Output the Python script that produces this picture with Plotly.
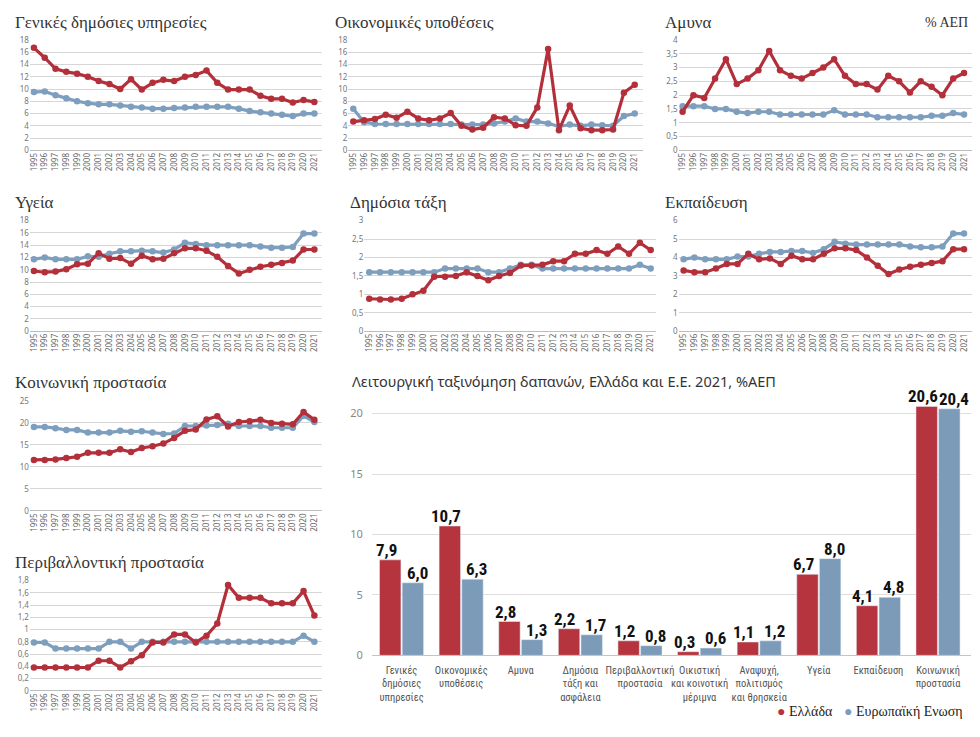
import plotly.graph_objects as go

W, H = 980, 737
years = list(range(1995, 2022))

gen_gr = [16.7, 15.1, 13.3, 12.8, 12.5, 12.0, 11.3, 10.8, 10.0, 11.6, 9.9, 11.0, 11.5, 11.3, 12.0, 12.3, 13.0, 11.0, 9.9, 9.9, 9.9, 8.9, 8.4, 8.4, 7.8, 8.2, 7.9]
gen_eu = [9.5, 9.6, 9.0, 8.5, 8.0, 7.7, 7.5, 7.5, 7.3, 7.1, 7.0, 6.8, 6.8, 6.9, 7.0, 7.1, 7.1, 7.1, 7.1, 6.8, 6.4, 6.2, 6.0, 5.8, 5.6, 6.0, 6.0]
eco_gr = [4.7, 4.9, 5.1, 5.8, 5.3, 6.3, 5.2, 4.9, 5.2, 6.1, 4.0, 3.4, 3.7, 5.4, 5.2, 4.1, 4.0, 7.0, 16.5, 3.3, 7.3, 3.6, 3.3, 3.3, 3.4, 9.4, 10.7]
eco_eu = [6.8, 4.6, 4.3, 4.3, 4.3, 4.3, 4.3, 4.3, 4.3, 4.3, 4.2, 4.2, 4.2, 4.4, 4.7, 5.2, 4.7, 4.7, 4.4, 3.9, 4.2, 4.0, 4.2, 4.1, 4.0, 5.6, 6.0]
def_gr = [1.4, 2.0, 1.9, 2.6, 3.3, 2.4, 2.6, 2.9, 3.6, 2.9, 2.7, 2.6, 2.8, 3.0, 3.3, 2.7, 2.4, 2.4, 2.2, 2.7, 2.5, 2.1, 2.5, 2.3, 2.0, 2.6, 2.8]
def_eu = [1.6, 1.6, 1.6, 1.5, 1.5, 1.4, 1.35, 1.4, 1.4, 1.3, 1.3, 1.3, 1.3, 1.3, 1.45, 1.3, 1.3, 1.3, 1.2, 1.2, 1.2, 1.2, 1.2, 1.25, 1.25, 1.35, 1.3]
hea_gr = [9.8, 9.6, 9.7, 10.1, 10.9, 11.0, 12.7, 11.8, 11.9, 11.0, 12.3, 11.7, 11.8, 12.7, 13.5, 13.5, 13.1, 12.1, 10.6, 9.4, 10.0, 10.5, 10.8, 11.1, 11.5, 13.3, 13.3]
hea_eu = [11.7, 12.0, 11.7, 11.7, 11.7, 12.2, 12.1, 12.6, 13.0, 13.0, 13.1, 13.0, 12.8, 13.3, 14.4, 14.2, 14.0, 14.0, 14.0, 14.0, 14.0, 13.8, 13.6, 13.6, 13.7, 15.9, 15.9]
ord_gr = [0.88, 0.86, 0.86, 0.88, 1.0, 1.1, 1.48, 1.48, 1.5, 1.6, 1.5, 1.38, 1.5, 1.58, 1.78, 1.78, 1.8, 1.9, 1.9, 2.1, 2.1, 2.2, 2.1, 2.3, 2.1, 2.4, 2.2]
ord_eu = [1.6, 1.6, 1.6, 1.6, 1.6, 1.6, 1.6, 1.7, 1.7, 1.7, 1.7, 1.6, 1.6, 1.7, 1.8, 1.8, 1.7, 1.7, 1.7, 1.7, 1.7, 1.7, 1.7, 1.7, 1.7, 1.8, 1.7]
edu_gr = [3.3, 3.2, 3.2, 3.4, 3.65, 3.65, 4.2, 3.9, 3.95, 3.65, 4.1, 3.9, 3.9, 4.2, 4.5, 4.5, 4.4, 4.0, 3.55, 3.1, 3.35, 3.5, 3.6, 3.7, 3.8, 4.45, 4.45]
edu_eu = [3.9, 4.0, 3.9, 3.9, 3.9, 4.05, 4.05, 4.2, 4.3, 4.3, 4.35, 4.35, 4.25, 4.45, 4.85, 4.75, 4.7, 4.7, 4.7, 4.7, 4.7, 4.6, 4.55, 4.55, 4.6, 5.3, 5.3]
soc_gr = [11.6, 11.6, 11.7, 12.0, 12.3, 13.2, 13.2, 13.2, 14.0, 13.4, 14.3, 14.7, 15.3, 16.6, 18.2, 18.5, 20.8, 21.5, 19.2, 20.2, 20.4, 20.7, 20.0, 19.8, 19.7, 22.5, 20.7]
soc_eu = [19.1, 19.1, 18.8, 18.4, 18.4, 17.8, 17.8, 17.8, 18.2, 18.0, 18.1, 17.8, 17.5, 17.6, 19.3, 19.3, 19.4, 19.5, 19.8, 19.3, 19.3, 19.3, 18.9, 18.9, 18.9, 21.6, 20.2]
env_gr = [0.38, 0.38, 0.38, 0.38, 0.38, 0.38, 0.49, 0.49, 0.38, 0.48, 0.58, 0.79, 0.79, 0.92, 0.92, 0.79, 0.9, 1.1, 1.73, 1.52, 1.52, 1.52, 1.43, 1.43, 1.43, 1.63, 1.23]
env_eu = [0.79, 0.79, 0.69, 0.69, 0.69, 0.69, 0.69, 0.8, 0.8, 0.69, 0.8, 0.8, 0.8, 0.8, 0.8, 0.8, 0.8, 0.8, 0.8, 0.8, 0.8, 0.8, 0.8, 0.8, 0.8, 0.9, 0.8]

bar_categories = ["Γενικές<br>δημόσιες<br>υπηρεσίες", "Οικονομικές<br>υποθέσεις", "Αμυνα",
                  "Δημόσια<br>τάξη και<br>ασφάλεια", "Περιβαλλοντική<br>προστασία",
                  "Οικιστική<br>και κοινοτική<br>μέριμνα", "Αναψυχή,<br>πολιτισμός<br>και θρησκεία",
                  "Υγεία", "Εκπαίδευση", "Κοινωνική<br>προστασία"]
bar_gr_2021 = [7.9, 10.7, 2.8, 2.2, 1.2, 0.3, 1.1, 6.7, 4.1, 20.6]
bar_eu_2021 = [6.0, 6.3, 1.3, 1.7, 0.8, 0.6, 1.2, 8.0, 4.8, 20.4]

RED = '#b3303b'
BLUE = '#7e9ebe'
RED_BAR = '#b5343e'
BLUE_BAR = '#7c9bb9'
SERIF = 'Liberation Serif, DejaVu Serif, serif'
SANS = 'Noto Sans, DejaVu Sans, sans-serif'
NARROW = 'Liberation Sans Narrow, Roboto Condensed, DejaVu Sans Condensed, Arial Narrow, sans-serif'

# (title, greek, eu, ymax, dtick, (grid_left, first_pt, last_pt, grid_right), (top_px, bottom_px), (title_x, title_y))
panels = [
    ("Γενικές δημόσιες υπηρεσίες", gen_gr, gen_eu, 18, 2, (28, 32, 313, 321), (34.5, 147), (11, 17)),
    ("Οικονομικές υποθέσεις", eco_gr, eco_eu, 18, 2, (347, 352, 634, 642), (34.5, 147), (332, 17)),
    ("Αμυνα", def_gr, def_eu, 4, 0.5, (678, 682, 964, 972), (34.5, 147), (662, 17)),
    ("Υγεία", hea_gr, hea_eu, 18, 2, (28, 32, 313, 321), (218.5, 331), (11, 200)),
    ("Δημόσια τάξη", ord_gr, ord_eu, 3, 0.5, (363, 368, 650, 655), (218.5, 331), (347, 200)),
    ("Εκπαίδευση", edu_gr, edu_eu, 6, 1, (678, 683, 964, 972), (218.5, 331), (662, 200)),
    ("Κοινωνική προστασία", soc_gr, soc_eu, 25, 5, (28, 32, 313, 321), (402, 514), (11, 383)),
    ("Περιβαλλοντική προστασία", env_gr, env_eu, 1.8, 0.2, (28, 32, 313, 321), (585, 697), (11, 567)),
]

fig = go.Figure()
annotations = []
layout_axes = {}

for i, (title, gr, eu, ymax, dt, (gl, fp, lp, gright), (top, bot), (tx, ty)) in enumerate(panels):
    n = i + 1
    xa = 'x' if n == 1 else f'x{n}'
    ya = 'y' if n == 1 else f'y{n}'
    ppu = (lp - fp) / (years[-1] - years[0])
    xr = [years[0] - (fp - gl) / ppu, years[-1] + (gright - lp) / ppu]
    for vals, col in ((eu, BLUE), (gr, RED)):
        fig.add_trace(go.Scatter(x=years, y=vals, xaxis=xa, yaxis=ya, mode='lines+markers',
                                 line=dict(color=col, width=3.2), marker=dict(color=col, size=6.5),
                                 cliponaxis=False, showlegend=False, hoverinfo='skip'))
    xkey = 'xaxis' if n == 1 else f'xaxis{n}'
    ykey = 'yaxis' if n == 1 else f'yaxis{n}'
    layout_axes[xkey] = dict(domain=[gl / W, gright / W], range=xr, anchor=ya,
                             tickmode='array', tickvals=years, ticktext=[str(y) for y in years],
                             tickangle=-90, tickfont=dict(family=SANS, size=8, color='#666'),
                             showgrid=False, zeroline=False, showline=False, ticks='', fixedrange=True)
    layout_axes[ykey] = dict(domain=[1 - bot / H, 1 - top / H], range=[0, ymax], anchor=xa,
                             dtick=dt, tick0=0, showgrid=True, gridcolor='#d6d6d6', gridwidth=1,
                             zeroline=True, zerolinecolor='#bdbdbd', zerolinewidth=1,
                             showline=False, ticks='', tickfont=dict(family=SANS, size=8, color='#777'),
                             fixedrange=True)
    annotations.append(dict(text=title, x=tx / W, y=1 - ty / H, xref='paper', yref='paper',
                            xanchor='left', yanchor='middle', showarrow=False,
                            font=dict(family=SERIF, size=17, color='#333')))

annotations.append(dict(text="% ΑΕΠ", x=970 / W, y=1 - 17 / H, xref='paper', yref='paper',
                        xanchor='right', yanchor='middle', showarrow=False,
                        font=dict(family=SERIF, size=14, color='#333')))

# Bar chart
fig.add_trace(go.Bar(x=bar_categories, y=bar_gr_2021, xaxis='x9', yaxis='y9', name='Ελλάδα',
                     marker=dict(color=RED_BAR), showlegend=False, hoverinfo='skip'))
fig.add_trace(go.Bar(x=bar_categories, y=bar_eu_2021, xaxis='x9', yaxis='y9', name='Ευρωπαϊκή Ενωση',
                     marker=dict(color=BLUE_BAR), showlegend=False, hoverinfo='skip'))

for vals, shift in ((bar_gr_2021, -15.5), (bar_eu_2021, 15.5)):
    for c, v in zip(bar_categories, vals):
        annotations.append(dict(text=f"<b>{v:.1f}</b>".replace('.', ','), x=c, y=v, xref='x9', yref='y9',
                                xanchor='center', yanchor='bottom', xshift=shift, yshift=-2,
                                showarrow=False, font=dict(family=NARROW, size=17, color='#111')))

layout_axes['xaxis9'] = dict(domain=[370.5 / W, 970.5 / W], type='category', anchor='y9',
                             tickangle=0, tickfont=dict(family=NARROW, size=10.5, color='#555'),
                             ticklabelstandoff=7,
                             showgrid=False, zeroline=False, showline=False, ticks='', fixedrange=True)
layout_axes['yaxis9'] = dict(domain=[1 - 661 / H, 1 - 396.5 / H], range=[0, 21.5], anchor='x9',
                             dtick=5, tick0=0, showgrid=True, gridcolor='#dedede', gridwidth=1,
                             zeroline=True, zerolinecolor='#c4c4c4', zerolinewidth=1,
                             showline=False, ticks='', ticklabelstandoff=8,
                             tickfont=dict(family=SANS, size=11, color='#888'), fixedrange=True)

annotations.append(dict(text="Λειτουργική ταξινόμηση δαπανών, Ελλάδα και Ε.Ε. 2021, %ΑΕΠ",
                        x=349 / W, y=1 - 382 / H, xref='paper', yref='paper', xanchor='left',
                        yanchor='middle', showarrow=False, font=dict(family=SANS, size=14.5, color='#333')))

annotations.append(dict(text=f'<span style="color:{RED_BAR}">●</span> Ελλάδα',
                        x=775 / W, y=1 - 718 / H, xref='paper', yref='paper', xanchor='left',
                        yanchor='middle', showarrow=False, font=dict(family=SERIF, size=14, color='#222')))
annotations.append(dict(text=f'<span style="color:{BLUE_BAR}">●</span> Ευρωπαϊκή Ενωση',
                        x=842 / W, y=1 - 718 / H, xref='paper', yref='paper', xanchor='left',
                        yanchor='middle', showarrow=False, font=dict(family=SERIF, size=14, color='#222')))

fig.update_layout(width=W, height=H, margin=dict(l=0, r=0, t=0, b=0),
                  paper_bgcolor='white', plot_bgcolor='white', separators=',.',
                  barmode='group', bargap=0.24, bargroupgap=0.055,
                  annotations=annotations, **layout_axes)

fig.write_html("out.html", config={'displayModeBar': False})
